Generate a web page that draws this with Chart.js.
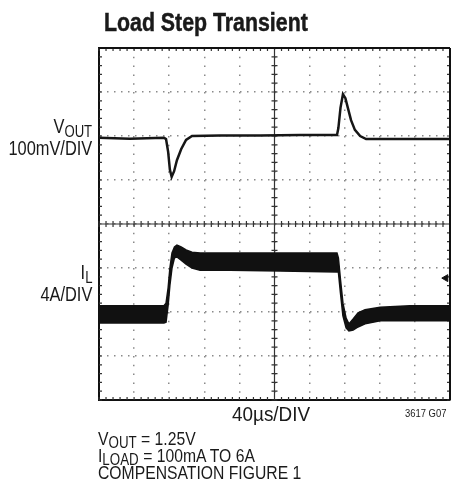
<!DOCTYPE html>
<html>
<head>
<meta charset="utf-8">
<script src="https://cdn.jsdelivr.net/npm/chart.js@4"></script>
<style>
  body { margin: 0; background: #fff; }
  #wrap { position: relative; width: 453px; height: 484px; overflow: hidden;
          font-family: "Liberation Sans", Arial, sans-serif; color: #1a1a1a; }
  #wrap canvas { position: absolute; left: 0; top: 0; }
  .lbl { position: absolute; white-space: nowrap; line-height: 0; height: 0;
         transform: scaleX(0.82); transform-origin: left center; }
  .lbl sub { font-size: 0.8em; vertical-align: -0.25em; line-height: 0; }
  .r { text-align: right; transform-origin: right center; }
  .note { transform: scaleX(0.85); }
  .note sub { font-size: 0.85em; vertical-align: -0.2em; }
</style>
</head>
<body>
<div id="wrap">
  <canvas id="chartScope" width="453" height="484"></canvas>
  <div class="lbl" style="left:104px; top:22px; font-size:26px; font-weight:bold; -webkit-text-stroke:0.5px #1a1a1a;">Load Step Transient</div>

  <div class="lbl r" style="right:361px; top:126px; font-size:20px;">V<sub>OUT</sub></div>
  <div class="lbl r" style="right:361px; top:148px; font-size:20px;">100mV/DIV</div>
  <div class="lbl r" style="right:361px; top:272px; font-size:20px;">I<sub>L</sub></div>
  <div class="lbl r" style="right:361px; top:294px; font-size:20px;">4A/DIV</div>

  <div class="lbl" style="left:232px; top:414px; font-size:21px; transform:scaleX(0.9);">40µs/DIV</div>
  <div class="lbl" style="left:405px; top:413px; font-size:11.5px;">3617 G07</div>

  <div class="lbl note" style="left:98px; top:439px; font-size:18.5px;">V<sub>OUT</sub> = 1.25V</div>
  <div class="lbl note" style="left:98px; top:456px; font-size:18.5px;">I<sub>LOAD</sub> = 100mA TO 6A</div>
  <div class="lbl note" style="left:98px; top:473px; font-size:18.5px;">COMPENSATION FIGURE 1</div>
</div>
<script>
// tiempo y amplitud en divisiones de la pantalla (x: 0..10, y: 0..8)
var voutX = [0, 0.88, 1.85, 1.91, 1.97, 2.02, 2.07, 2.14, 2.22, 2.34, 2.48, 2.65, 3.45, 4.59, 5.73, 6.78, 6.82, 6.88, 6.95, 7.02, 7.09, 7.18, 7.29, 7.44, 7.61, 8.58, 10];
var voutY = [5.96, 5.94, 5.96, 5.93, 5.64, 5.23, 5.07, 5.2, 5.45, 5.7, 5.91, 6.0, 6.01, 6.01, 6.02, 6.02, 6.18, 6.64, 6.95, 6.86, 6.64, 6.36, 6.14, 6.0, 5.93, 5.93, 5.93];

// corriente del inductor: borde superior e inferior de la traza con ruido
var ilX  = [0, 1.85, 1.91, 1.97, 2.02, 2.08, 2.15, 2.22, 2.34, 2.48, 2.65, 2.88, 3.73, 5.16, 6.78, 6.82, 6.88, 6.95, 7.04, 7.12, 7.24, 7.38, 7.58, 8.01, 8.86, 10];
var ilHi = [2.14, 2.14, 2.2, 2.55, 3.0, 3.34, 3.48, 3.52, 3.48, 3.41, 3.36, 3.34, 3.34, 3.34, 3.34, 3.23, 2.73, 2.2, 1.86, 1.73, 1.84, 1.98, 2.05, 2.11, 2.14, 2.14];
var ilLo = [1.75, 1.75, 1.77, 2.16, 2.61, 3.0, 3.23, 3.25, 3.18, 3.09, 3.0, 2.95, 2.95, 2.93, 2.91, 2.91, 2.43, 1.91, 1.64, 1.57, 1.59, 1.66, 1.73, 1.8, 1.8, 1.8];

// marcador de referencia del canal 2 (borde derecho)
var markX = [9.88];
var markY = [2.77];

var DIV_X = 10, DIV_Y = 8, MINOR = 5;

function pts(xs, ys) {
  return xs.map(function (x, i) { return { x: x, y: ys[i] }; });
}

// cruz central y marcas menores, dibujadas con las escalas del grafico
var scopeMarks = {
  id: 'scopeMarks',
  beforeDatasetsDraw: function (chart) {
    var ctx = chart.ctx, a = chart.chartArea;
    var sx = chart.scales.x, sy = chart.scales.y;
    var cx = sx.getPixelForValue(DIV_X / 2), cy = sy.getPixelForValue(DIV_Y / 2);
    ctx.save();
    ctx.strokeStyle = '#333';
    ctx.lineWidth = 1.2;
    ctx.beginPath();
    ctx.moveTo(a.left, cy); ctx.lineTo(a.right, cy);
    ctx.moveTo(cx, a.top); ctx.lineTo(cx, a.bottom);
    for (var i = 0; i <= DIV_X * MINOR; i++) {
      var px = sx.getPixelForValue(i / MINOR);
      ctx.moveTo(px, cy - 3); ctx.lineTo(px, cy + 3);
      ctx.moveTo(px, a.top); ctx.lineTo(px, a.top + 3);
      ctx.moveTo(px, a.bottom); ctx.lineTo(px, a.bottom - 3);
    }
    for (var j = 0; j <= DIV_Y * MINOR; j++) {
      var py = sy.getPixelForValue(j / MINOR);
      ctx.moveTo(cx - 3, py); ctx.lineTo(cx + 3, py);
      ctx.moveTo(a.left, py); ctx.lineTo(a.left + 3, py);
      ctx.moveTo(a.right, py); ctx.lineTo(a.right - 3, py);
    }
    ctx.stroke();
    // bordes superior y derecho
    ctx.strokeStyle = '#111';
    ctx.lineWidth = 2;
    ctx.beginPath();
    ctx.moveTo(a.left, a.top); ctx.lineTo(a.right, a.top);
    ctx.moveTo(a.right, a.top); ctx.lineTo(a.right, a.bottom);
    ctx.stroke();
    ctx.restore();
  }
};

var ctxScope = document.getElementById('chartScope').getContext('2d');
var configScope = {
  type: 'line',
  data: {
    datasets: [
      {
        label: 'VOUT',
        data: pts(voutX, voutY),
        borderColor: '#161616',
        borderWidth: 2.5,
        pointRadius: 0,
        tension: 0,
        fill: false
      },
      {
        label: 'IL max',
        data: pts(ilX, ilHi),
        borderColor: '#111',
        backgroundColor: '#111',
        borderWidth: 1.5,
        pointRadius: 0,
        tension: 0,
        fill: '+1'
      },
      {
        label: 'IL min',
        data: pts(ilX, ilLo),
        borderColor: '#111',
        borderWidth: 1.5,
        pointRadius: 0,
        tension: 0,
        fill: false
      },
      {
        label: 'ref',
        data: pts(markX, markY),
        showLine: false,
        pointStyle: 'triangle',
        rotation: -90,
        pointRadius: 4,
        backgroundColor: '#111',
        borderColor: '#111',
        borderWidth: 1
      }
    ]
  },
  options: {
    responsive: false,
    animation: false,
    devicePixelRatio: 1,
    layout: { autoPadding: false, padding: { left: 99, top: 48, right: 3, bottom: 84 } },
    plugins: { legend: { display: false }, tooltip: { enabled: false } },
    scales: {
      x: {
        type: 'linear', min: 0, max: DIV_X,
        ticks: { display: false, stepSize: 1 },
        grid: { color: '#8a8a8a', lineWidth: 1.5, drawTicks: false },
        border: { display: true, color: '#111', width: 2, dash: [1.5, 7.3] }
      },
      y: {
        type: 'linear', min: 0, max: DIV_Y,
        ticks: { display: false, stepSize: 1 },
        grid: { color: '#8a8a8a', lineWidth: 1.5, drawTicks: false },
        border: { display: true, color: '#111', width: 2, dash: [1.5, 5.5] }
      }
    }
  },
  plugins: [scopeMarks]
};
var ax_chartScope = new Chart(ctxScope, configScope);
</script>
</body>
</html>
